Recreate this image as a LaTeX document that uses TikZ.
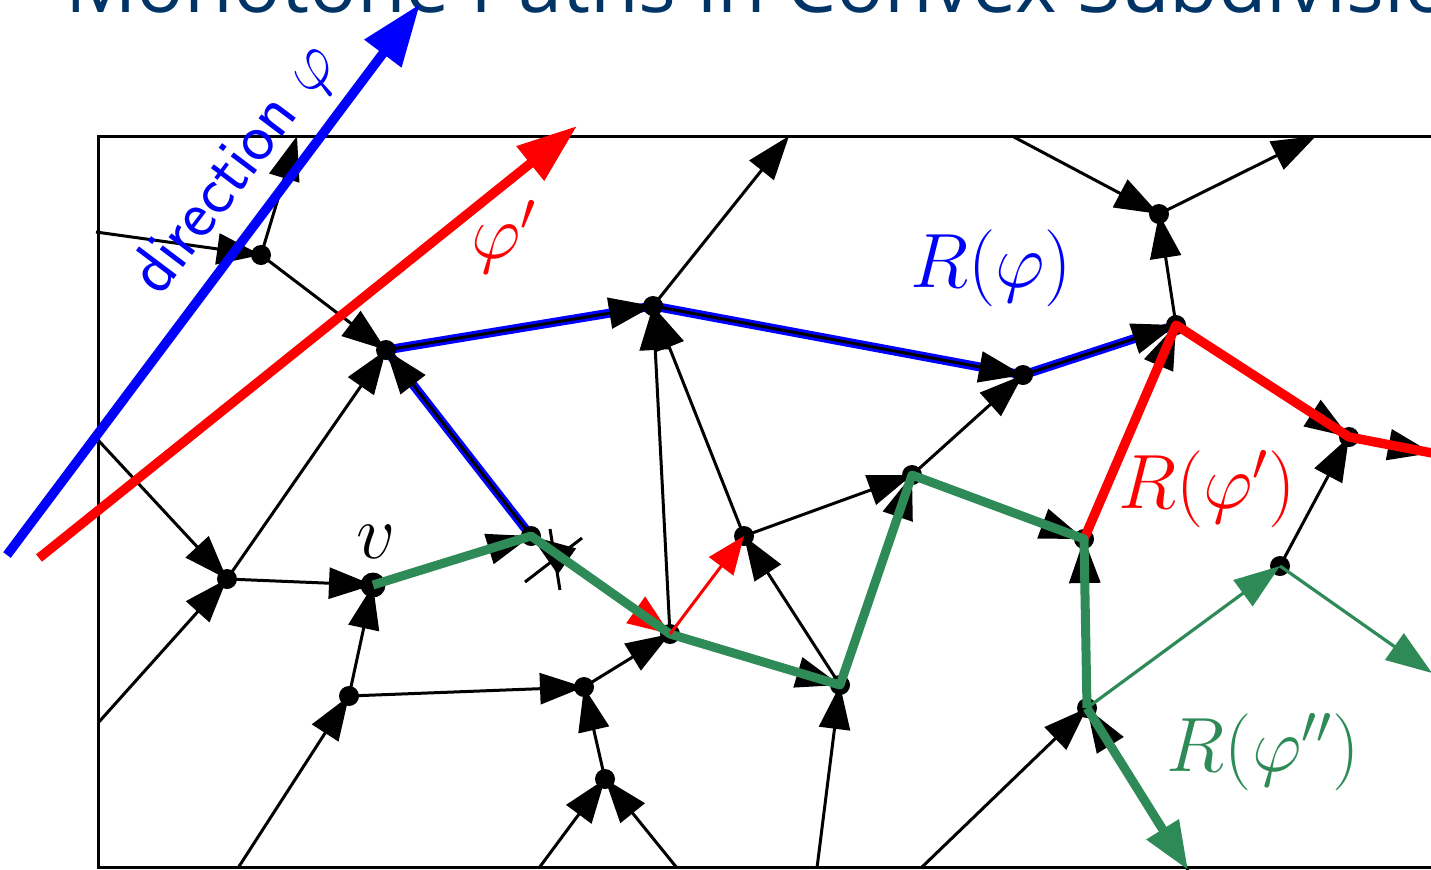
\RequirePackage{fix-cm}
\documentclass[tikz,border=0pt]{standalone}
\usepackage{fontspec}
\newfontfamily\titlefont{Open Sans}
\usetikzlibrary{arrows.meta}
\definecolor{sgreen}{RGB}{46,139,87}
\definecolor{titleblue}{RGB}{0,51,102}
\tikzset{
  edge/.style={draw=black, line width=1.5pt, -{Triangle[length=22pt,width=15.5pt]}},
  dot/.style={circle, fill=black, inner sep=0pt, minimum size=10pt},
  bigdot/.style={circle, fill=black, inner sep=0pt, minimum size=12.5pt},
  mathlbl/.style={font=\fontsize{38.5}{44}\selectfont, anchor=base, inner sep=0pt},
  boxline/.style={draw=black, line width=1.5pt},
}
\begin{document}
\begin{tikzpicture}[x=0.5pt,y=-0.5pt]
\useasboundingbox (0,0) rectangle (1431,869);
\clip (0,0) rectangle (1431,869);
% title (cut by the page)
\node[anchor=base west, text=titleblue, font=\titlefont\fontsize{39.6}{46}\selectfont, inner sep=0pt] (title) at (65,12) {Monotone Paths in Convex Subdivisions};
% vertices
\coordinate (A) at (261,255);
\coordinate (B) at (386,350);
\coordinate (C) at (653,306);
\coordinate (D) at (1023,375);
\coordinate (E) at (1176,325);
\coordinate (F) at (1159,214);
\coordinate (G) at (1349,437);
\coordinate (H) at (227,579);
\coordinate (V) at (373,585);
\coordinate (I) at (531,536);
\coordinate (J) at (670,634);
\coordinate (K) at (744,536);
\coordinate (L) at (912,475);
\coordinate (M) at (840,685);
\coordinate (N) at (1084,539);
\coordinate (O) at (1087,708);
\coordinate (P) at (1280,566);
\coordinate (Q) at (349,696);
\coordinate (R) at (584,687);
\coordinate (S) at (605,779);
% boundary points
\coordinate (b1) at (96,232);
\coordinate (b2) at (297,136);
\coordinate (b3) at (98,440);
\coordinate (b4) at (98,723);
\coordinate (b5) at (238,868);
\coordinate (b6) at (539,868);
\coordinate (b7) at (677,868);
\coordinate (b8) at (817,868);
\coordinate (b9) at (921,868);
\coordinate (b10) at (789,136);
\coordinate (b11) at (1012,136);
\coordinate (b12) at (1316,136);
\coordinate (b13) at (1432,453);
\coordinate (b14) at (1432,673);
\coordinate (b15) at (1188,870);
% frame
\draw[boxline] (1445,136) -| (98,867) -- (1445,867);
% blue underlay of R(phi)
\draw[blue, line width=4.5pt, line join=round] (I) -- (B) -- (C) -- (D) -- (E);
% black directed edges
\draw[edge] (b1) -- (A);
\draw[edge] (A) -- (b2);
\draw[edge] (A) -- (B);
\draw[edge] (b3) -- (H);
\draw[edge] (b4) -- (H);
\draw[edge] (H) -- (B);
\draw[edge] (H) -- (V);
\draw[edge] (b5) -- (Q);
\draw[edge] (Q) -- (V);
\draw[edge] (Q) -- (R);
\draw[edge] (b6) -- (S);
\draw[edge] (b7) -- (S);
\draw[edge] (S) -- (R);
\draw[edge] (R) -- (J);
\draw[edge] (V) -- (I);
\draw[edge] (I) -- (B);
\draw[edge] (J) -- (I);
\draw[edge] (B) -- (C);
\draw[edge] (J) -- (C);
\draw[edge] (K) -- (C);
\draw[edge] (C) -- (b10);
\draw[edge] (C) -- (D);
\draw[edge] (L) -- (D);
\draw[edge] (D) -- (E);
\draw[edge] (K) -- (L);
\draw[edge] (M) -- (L);
\draw[edge] (M) -- (K);
\draw[edge] (J) -- (M);
\draw[edge] (b8) -- (M);
\draw[edge] (L) -- (N);
\draw[edge] (O) -- (N);
\draw[edge] (N) -- (E);
\draw[edge] (E) -- (F);
\draw[edge] (b11) -- (F);
\draw[edge] (F) -- (b12);
\draw[edge] (E) -- (G);
\draw[edge] (P) -- (G);
\draw[edge] (G) -- (b13);
\draw[edge] (b9) -- (O);
\draw[edge] (b15) -- (O);
% crossed-out edge marks at I
\draw[boxline] (525,582) -- (582,538);
\draw[boxline] (550,529) -- (560,590);
% vertex dots
\foreach \p in {A,B,C,D,E,F,G,H,I,J,K,L,M,N,O,P,Q,R,S}{\node[dot] (d\p) at (\p) {};}
\node[bigdot] (dV) at (V) {};
% red thin arrow on I-J (under green)
\draw[red, line width=1.5pt, -{Triangle[length=21pt,width=16pt]}] (I) -- (J);
% R(phi') red path
\draw[red, line width=4.7pt, line join=round] (N) -- (E) -- (G) -- (b13);
% R(phi'') green path
\draw[sgreen, line width=4.5pt, line join=round] (V) -- (I) -- (J) -- (M) -- (L) -- (N) -- (O);
\draw[sgreen, line width=4.5pt, -{Triangle[length=24pt,width=18pt]}] (O) -- (b15);
\draw[sgreen, line width=1.6pt, -{Triangle[length=23pt,width=16pt]}] (O) -- (P);
\draw[sgreen, line width=1.6pt, -{Triangle[length=23pt,width=16pt]}] (P) -- (b14);
% red thin J -> K
\draw[red, line width=1.5pt, -{Triangle[length=19pt,width=15pt]}] (J) -- (K);
% direction arrows
\coordinate (bs) at (7,555);
\coordinate (be) at (420,4);
\coordinate (rs) at (39,558);
\coordinate (re) at (577,126);
\draw[blue, line width=4.7pt, -{Triangle[length=31pt,width=22pt]}] (bs) -- (be);
\draw[red, line width=4.7pt, -{Triangle[length=30pt,width=21pt]}] (rs) -- (re);
% labels
\node[blue, rotate=53, inner sep=0pt, font=\fontsize{34}{40}\selectfont\sffamily] (ldir) at (236,170) {direction $\varphi$};
\node[mathlbl, red] (lphi) at (504,258) {$\varphi'$};
\node[mathlbl, blue] (lR1) at (991,287) {$R(\varphi)$};
\node[mathlbl, red] (lR2) at (1207,508) {$R(\varphi')$};
\node[mathlbl, sgreen] (lR3) at (1263,771) {$R(\varphi'')$};
\node[mathlbl, black] (lv) at (376,558) {$v$};
\end{tikzpicture}
\end{document}
